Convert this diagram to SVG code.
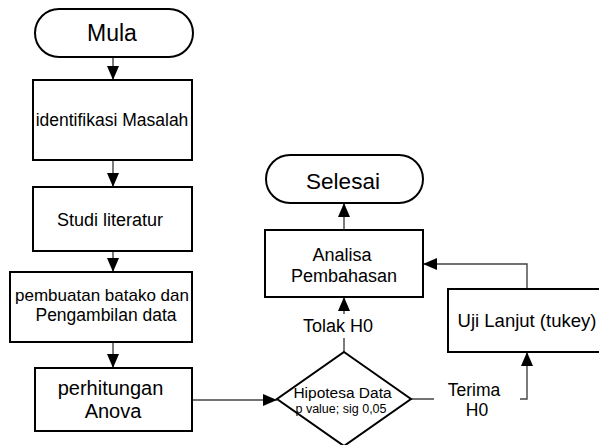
<svg xmlns="http://www.w3.org/2000/svg" width="599" height="445" viewBox="0 0 599 445">
<defs>
<style>
.box{fill:#fff;stroke:#000;stroke-width:2}
.con{fill:none;stroke:#444;stroke-width:1.4}
.t{font-family:"Liberation Sans",Arial,sans-serif;fill:#000;text-anchor:middle}
</style>
<marker id="ah" markerUnits="userSpaceOnUse" markerWidth="14" markerHeight="12" refX="14" refY="6" orient="auto">
<path d="M0,0 L14,6 L0,12 z" fill="#000"/>
</marker>
</defs>
<rect width="599" height="445" fill="#fff"/>
<g id="connectors">
<path class="con" d="M113,57 V80" marker-end="url(#ah)"/>
<path class="con" d="M113,160 V187" marker-end="url(#ah)"/>
<path class="con" d="M113,251 V272" marker-end="url(#ah)"/>
<path class="con" d="M113,342 V368" marker-end="url(#ah)"/>
<path class="con" d="M192,400 H277" marker-end="url(#ah)"/>
<path class="con" d="M344,352 V297" marker-end="url(#ah)"/>
<path class="con" d="M344,230 V203" marker-end="url(#ah)"/>
<path class="con" d="M411,399 H527 V352" marker-end="url(#ah)"/>
<path class="con" d="M527,289 V264 H423" marker-end="url(#ah)"/>
</g>
<g id="mula">
<rect class="box" x="35" y="9" width="158" height="48" rx="24"/>
<text class="t" x="112" y="40.5" font-size="23">Mula</text>
</g>
<g id="identifikasi">
<rect class="box" x="33" y="80" width="159" height="80"/>
<text class="t" x="112" y="126" font-size="17.5">identifikasi Masalah</text>
</g>
<g id="studi">
<rect class="box" x="33" y="187" width="159" height="64"/>
<text class="t" x="110" y="226" font-size="18">Studi literatur</text>
</g>
<g id="pembuatan">
<rect class="box" x="10" y="272" width="182" height="70"/>
<text class="t" x="102" y="301" font-size="17">pembuatan batako dan</text>
<text class="t" x="106" y="321" font-size="17.5">Pengambilan data</text>
</g>
<g id="perhitungan">
<rect class="box" x="35" y="368" width="157" height="63"/>
<text class="t" x="110.5" y="395" font-size="20">perhitungan</text>
<text class="t" x="113" y="418" font-size="20">Anova</text>
</g>
<g id="hipotesa">
<polygon class="box" points="344,352 411,399 344,446 277,399"/>
<text class="t" x="342.5" y="397.5" font-size="15.5">Hipotesa Data</text>
<text class="t" x="341" y="413" font-size="12.5">p value; sig 0,05</text>
</g>
<g id="label-tolak">
<rect x="300" y="314" width="78" height="24" fill="#fff"/>
<text class="t" x="338" y="332" font-size="18">Tolak H0</text>
</g>
<g id="label-terima">
<rect x="434" y="378" width="86" height="44" fill="#fff"/>
<text class="t" x="474" y="395.5" font-size="17.5">Terima</text>
<text class="t" x="477" y="416" font-size="17.5">H0</text>
</g>
<g id="analisa">
<rect class="box" x="265" y="230" width="158" height="67"/>
<text class="t" x="342" y="261" font-size="18">Analisa</text>
<text class="t" x="344" y="282" font-size="18">Pembahasan</text>
</g>
<g id="selesai">
<rect class="box" x="266" y="155" width="157" height="48" rx="24"/>
<text class="t" x="343" y="189" font-size="22.5">Selesai</text>
</g>
<g id="uji">
<rect class="box" x="448" y="289" width="170" height="63"/>
<text class="t" x="527" y="327" font-size="18.5">Uji Lanjut (tukey)</text>
</g>
</svg>
